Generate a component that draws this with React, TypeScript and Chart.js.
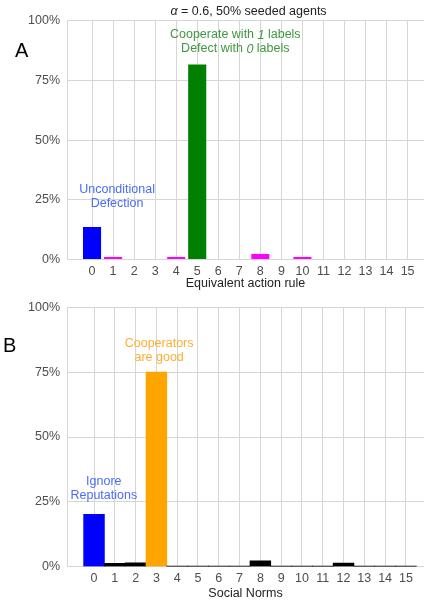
import React, { useEffect, useRef } from 'react';
import { Chart, registerables } from 'chart.js';

Chart.register(...registerables);

const categories = ['0', '1', '2', '3', '4', '5', '6', '7', '8', '9', '10', '11', '12', '13', '14', '15'];
const yTickValues = [0, 25, 50, 75, 100];

const ruleShares = [13.6, 1.0, 0.2, 0.2, 1.0, 81.7, 0.2, 0.2, 2.3, 0.2, 1.0, 0.2, 0.2, 0.2, 0.2, 0.2];
const ruleColors = ['#0000ff', '#ff00ff', '#ff00ff', '#ff00ff', '#ff00ff', '#008000', '#ff00ff', '#ff00ff', '#ff00ff', '#ff00ff', '#ff00ff', '#ff00ff', '#ff00ff', '#ff00ff', '#ff00ff', '#ff00ff'];

const normShares = [20.2, 1.3, 1.5, 75.0, 0.1, 0.1, 0.1, 0.1, 2.3, 0.1, 0.1, 0.1, 1.4, 0.1, 0.1, 0.1];
const normColors = ['#0000ff', '#000000', '#000000', '#ffa500', '#000000', '#000000', '#000000', '#000000', '#000000', '#000000', '#000000', '#000000', '#000000', '#000000', '#000000', '#000000'];

type Seg = { t: string; i?: boolean };
type Note = { lines: Seg[][]; x: number; y: number; color: string };

const ruleNotes: Note[] = [
  { lines: [[{ t: 'Unconditional' }], [{ t: 'Defection' }]], x: 1.19, y: 29.1, color: '#4a6cf7' },
  {
    lines: [
      [{ t: 'Cooperate with ' }, { t: '1', i: true }, { t: ' labels' }],
      [{ t: 'Defect with ' }, { t: '0', i: true }, { t: ' labels' }],
    ],
    x: 6.81, y: 94.0, color: '#3f983f',
  },
];

const normNotes: Note[] = [
  { lines: [[{ t: 'Ignore' }], [{ t: 'Reputations' }]], x: 0.47, y: 32.8, color: '#4a6cf7' },
  { lines: [[{ t: 'Cooperators' }], [{ t: 'are good' }]], x: 3.13, y: 86.1, color: '#ffae33' },
];

const FONT = '"Liberation Sans", Arial, sans-serif';

function drawSegs(ctx: CanvasRenderingContext2D, segs: Seg[], cx: number, y: number, size: number, color: string) {
  let total = 0;
  const widths = segs.map((s) => {
    ctx.font = `${s.i ? 'italic ' : ''}${size}px ${FONT}`;
    const w = ctx.measureText(s.t).width;
    total += w;
    return w;
  });
  let x = cx - total / 2;
  ctx.fillStyle = color;
  ctx.textAlign = 'left';
  ctx.textBaseline = 'middle';
  segs.forEach((s, k) => {
    ctx.font = `${s.i ? 'italic ' : ''}${size}px ${FONT}`;
    ctx.fillText(s.t, x, y);
    x += widths[k];
  });
}

const notesPlugin = {
  id: 'notes',
  afterDraw(chart: any, _args: any, opts: any) {
    const ctx: CanvasRenderingContext2D = chart.ctx;
    const xs = chart.scales.x;
    const ys = chart.scales.y;
    ctx.save();
    (opts.notes || []).forEach((n: Note) => {
      n.lines.forEach((segs, k) => {
        drawSegs(ctx, segs, xs.getPixelForValue(n.x), ys.getPixelForValue(n.y) + k * 14, 12.5, n.color);
      });
    });
    if (opts.title) {
      const cx = (chart.chartArea.left + chart.chartArea.right) / 2 + 3;
      drawSegs(ctx, opts.title, cx, 12, 12.5, '#222222');
    }
    if (opts.letter) {
      ctx.font = `20px ${FONT}`;
      ctx.fillStyle = '#000000';
      ctx.textAlign = 'left';
      ctx.textBaseline = 'alphabetic';
      ctx.fillText(opts.letter, opts.letterX, opts.letterY);
    }
    ctx.restore();
  },
};

function makeConfig(
  shares: number[], colors: string[], barPct: number, xMin: number, xMax: number,
  xTitle: string, topPad: number, xAxisHeight: number, tickPad: number, titlePadBottom: number,
  notes: Note[], letter: string, letterX: number, letterY: number, title?: Seg[]
): any {
  const gridColor = '#d6d6d6';
  return {
    type: 'bar',
    data: {
      datasets: [{
        data: categories.map((c, i) => ({ x: Number(c), y: shares[i] })),
        backgroundColor: colors,
        borderWidth: 0,
        barPercentage: barPct,
        categoryPercentage: 1,
      }],
    },
    options: {
      animation: false,
      responsive: false,
      layout: { padding: { top: topPad, left: 0, right: 0, bottom: 0 } },
      plugins: {
        legend: { display: false },
        tooltip: { enabled: false },
        title: { display: false },
        notes: { notes, letter, letterX, letterY, title },
      },
      scales: {
        x: {
          type: 'linear',
          offset: false,
          min: xMin,
          max: xMax,
          afterBuildTicks: (s: any) => { s.ticks = categories.map((c) => ({ value: Number(c) })); },
          afterFit: (s: any) => { s.height = xAxisHeight; },
          ticks: {
            autoSkip: false,
            maxRotation: 0,
            padding: tickPad,
            color: '#4d4d4d',
            font: { family: FONT, size: 12.5 },
            callback: (_v: any, i: number) => categories[i],
          },
          grid: { color: gridColor, lineWidth: 1, drawTicks: false, offset: false },
          border: { display: false },
          title: {
            display: true,
            text: xTitle,
            color: '#222222',
            font: { family: FONT, size: 12.5 },
            padding: { top: 0, bottom: titlePadBottom },
          },
        },
        y: {
          min: 0,
          max: 100,
          afterBuildTicks: (s: any) => { s.ticks = yTickValues.map((v) => ({ value: v })); },
          afterFit: (s: any) => { s.width = 67; },
          ticks: {
            padding: 7,
            color: '#4d4d4d',
            font: { family: FONT, size: 12.5 },
            callback: (v: any) => `${v}%`,
          },
          grid: { color: gridColor, lineWidth: 1, drawTicks: false },
          border: { display: true, color: gridColor, width: 1 },
        },
      },
    },
    plugins: [notesPlugin],
  };
}

export default function App() {
  const refA = useRef<HTMLCanvasElement>(null);
  const refB = useRef<HTMLCanvasElement>(null);

  useEffect(() => {
    const a = new Chart(refA.current as HTMLCanvasElement, makeConfig(
      ruleShares, ruleColors, 0.86, -1.19, 15.78, 'Equivalent action rule',
      20.7, 31.5, 4.5, 0, ruleNotes, 'A', 15, 57,
      [{ t: 'α', i: true }, { t: ' = 0.6, 50% seeded agents' }]
    ));
    const b = new Chart(refB.current as HTMLCanvasElement, makeConfig(
      normShares, normColors, 1.0, -1.3, 15.87, 'Social Norms',
      16.3, 34.3, 4, 0, normNotes, 'B', 3, 61
    ));
    return () => { a.destroy(); b.destroy(); };
  }, []);

  return (
    <div style={{ position: 'absolute', left: 0, top: 0, width: 424, height: 601, background: '#ffffff' }}>
      <canvas ref={refA} width={424} height={291} style={{ display: 'block', width: 424, height: 291 }} />
      <canvas ref={refB} width={424} height={310} style={{ display: 'block', width: 424, height: 310 }} />
    </div>
  );
}
